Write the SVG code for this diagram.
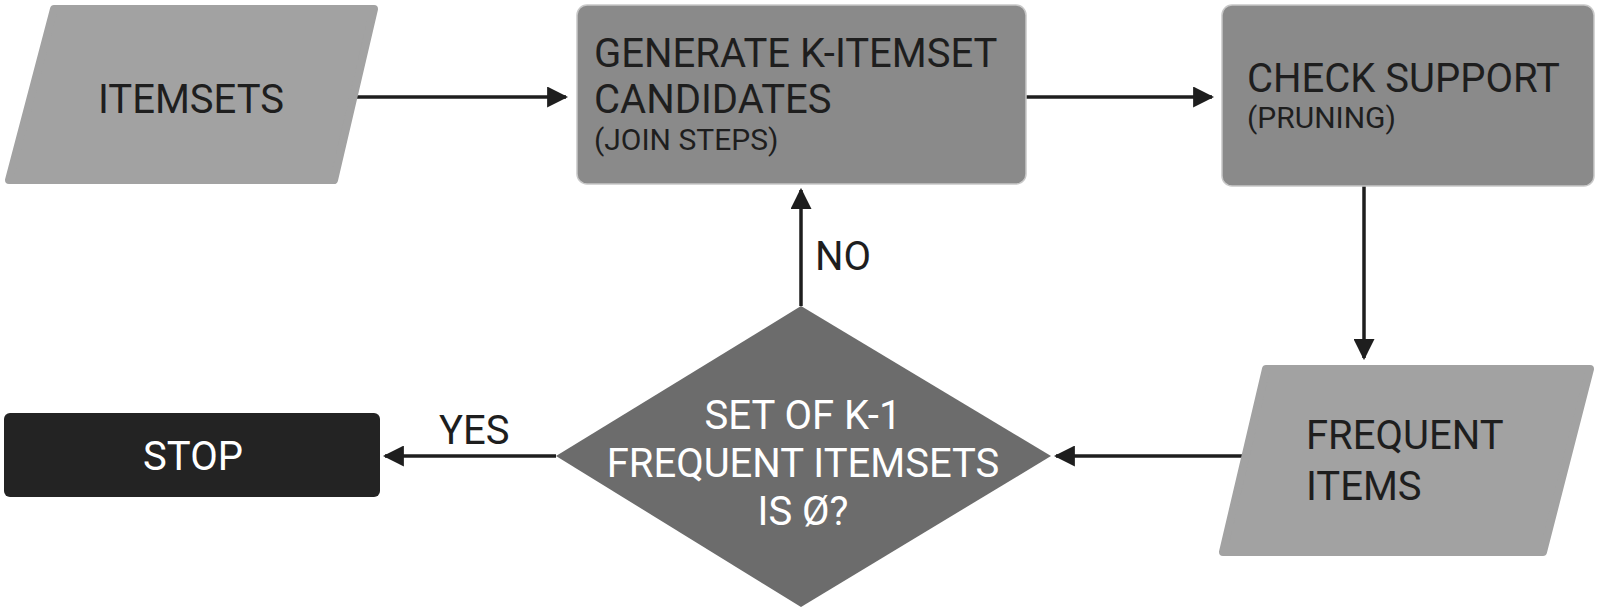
<svg xmlns="http://www.w3.org/2000/svg" width="1600" height="612" viewBox="0 0 1600 612">
<style>
.t{font-family:Roboto,"Liberation Sans",sans-serif;font-size:40px;fill:#1e1e1e}
.s{font-family:Roboto,"Liberation Sans",sans-serif;font-size:30px;fill:#1e1e1e}
.w{font-family:Roboto,"Liberation Sans",sans-serif;font-size:40px;fill:#ffffff}
.light{fill:#a2a2a2;stroke:#a2a2a2;stroke-width:8;stroke-linejoin:round}
.mid{fill:#8a8a8a;stroke:#c8c8c8;stroke-width:1.5}
.dia{fill:#6c6c6c}
.edge{stroke:#1e1e1e;stroke-width:3.5;fill:none;marker-end:url(#ah)}
</style>
<defs>
<marker id="ah" viewBox="0 0 10 10" refX="9" refY="5" markerWidth="6" markerHeight="6" orient="auto" markerUnits="strokeWidth">
<path d="M0,0 L10,5 L0,10 z" fill="#1e1e1e"/>
</marker>
</defs>
<rect width="1600" height="612" fill="#ffffff"/>
<g id="connectors">
<line class="edge" x1="357" y1="97" x2="566" y2="97"/>
<line class="edge" x1="1026" y1="97" x2="1212" y2="97"/>
<line class="edge" x1="1364" y1="186" x2="1364" y2="358"/>
<line class="edge" x1="1260" y1="456" x2="1056" y2="456"/>
<line class="edge" x1="801" y1="306" x2="801" y2="190"/>
<line class="edge" x1="556" y1="456" x2="385" y2="456"/>
<text class="t" x="815" y="270">NO</text>
<text class="t" x="439" y="444">YES</text>
</g>
<g id="itemsets">
<polygon class="light" points="54,9 374,9 334,180 9,180"/>
<text class="t" x="191" y="113" text-anchor="middle">ITEMSETS</text>
</g>
<g id="generate">
<rect class="mid" x="577" y="5" width="449" height="179" rx="10"/>
<text class="t" x="594" y="67">GENERATE K-ITEMSET</text>
<text class="t" x="594" y="113">CANDIDATES</text>
<text class="s" x="594" y="150">(JOIN STEPS)</text>
</g>
<g id="check">
<rect class="mid" x="1222" y="5" width="372" height="181" rx="10"/>
<text class="t" x="1247" y="92">CHECK SUPPORT</text>
<text class="s" x="1247" y="128">(PRUNING)</text>
</g>
<g id="frequent">
<polygon class="light" points="1266,369 1590,369 1543,552 1223,552"/>
<text class="t" x="1306" y="449">FREQUENT</text>
<text class="t" x="1306" y="500">ITEMS</text>
</g>
<g id="decision">
<polygon class="dia" points="801,306 1051,456 801,607 556,456"/>
<text class="w" x="803" y="429" text-anchor="middle">SET OF K-1</text>
<text class="w" x="803" y="477" text-anchor="middle">FREQUENT ITEMSETS</text>
<text class="w" x="803" y="525" text-anchor="middle">IS Ø?</text>
</g>
<g id="stop">
<rect x="4" y="413" width="376" height="84" rx="6" fill="#232323"/>
<text class="w" x="193" y="470" text-anchor="middle">STOP</text>
</g>
</svg>
